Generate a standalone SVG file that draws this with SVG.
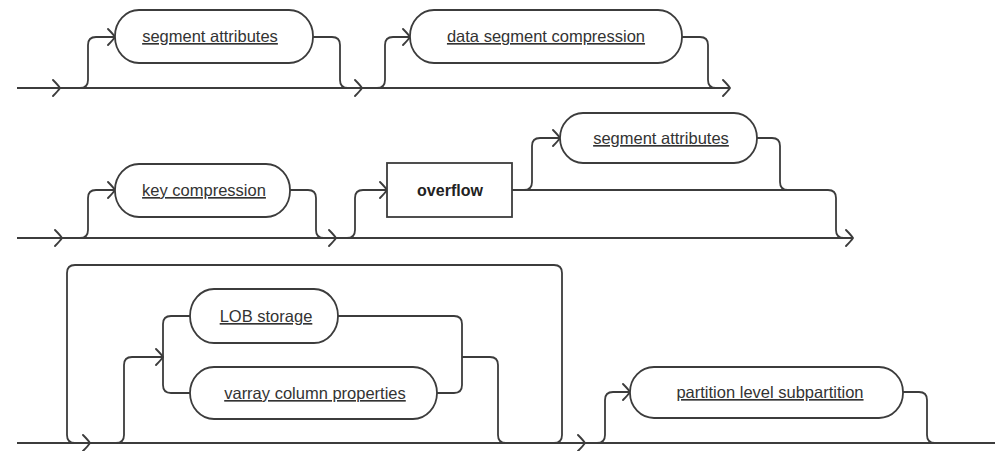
<svg xmlns="http://www.w3.org/2000/svg" width="995" height="451" viewBox="0 0 995 451">
  <style>
    .line { fill: none; stroke: #3c3c3c; stroke-width: 1.8; }
    .node { fill: #fff; stroke: #3c3c3c; stroke-width: 1.8; }
    .lbl { font-family: "Liberation Sans", Arial, sans-serif; font-size: 16.5px; fill: #333; text-anchor: middle; text-decoration: underline; }
    .kw { font-family: "Liberation Sans", Arial, sans-serif; font-size: 16px; font-weight: bold; fill: #222; text-anchor: middle; }
    .chev { fill: none; stroke: #3c3c3c; stroke-width: 1.9; stroke-linecap: round; stroke-linejoin: round; }
  </style>
  <defs>
    <!-- open chevron arrowhead, tip at origin pointing right -->
    <path id="arr" class="chev" d="M -7 -8 Q -2 -3 0 0 Q -2 3 -7 8"/>
  </defs>
  <rect width="995" height="451" fill="#fff"/>

  <g id="connectors">
    <!-- row 1 -->
    <path class="line" d="M17,88 H730"/>
    <path class="line" d="M80,88 Q88,88 88,80 V45 Q88,37 96,37 H115"/>
    <path class="line" d="M313,37 H332 Q340,37 340,45 V80 Q340,88 348,88"/>
    <path class="line" d="M377,88 Q385,88 385,80 V45 Q385,37 393,37 H410"/>
    <path class="line" d="M682,37 H700 Q708,37 708,45 V80 Q708,88 716,88"/>
    <use href="#arr" x="60" y="88"/>
    <use href="#arr" x="115" y="37"/>
    <use href="#arr" x="362" y="88"/>
    <use href="#arr" x="410" y="37"/>
    <use href="#arr" x="730" y="88"/>

    <!-- row 2 -->
    <path class="line" d="M17,238 H853"/>
    <path class="line" d="M80,238 Q88,238 88,230 V198 Q88,190 96,190 H115"/>
    <path class="line" d="M290,190 H308 Q316,190 316,198 V230 Q316,238 324,238"/>
    <path class="line" d="M347,238 Q355,238 355,230 V198 Q355,190 363,190 H387"/>
    <path class="line" d="M512,190 H828 Q836,190 836,198 V230 Q836,238 844,238"/>
    <path class="line" d="M524,190 Q532,190 532,182 V146 Q532,138 540,138 H560"/>
    <path class="line" d="M757,138 H772 Q780,138 780,146 V182 Q780,190 788,190"/>
    <use href="#arr" x="62" y="238"/>
    <use href="#arr" x="115" y="190"/>
    <use href="#arr" x="336" y="238"/>
    <use href="#arr" x="387" y="190"/>
    <use href="#arr" x="560" y="138"/>
    <use href="#arr" x="853" y="238"/>

    <!-- row 3 -->
    <path class="line" d="M17,443 H995"/>
    <path class="line" d="M554,443 Q562,443 562,435 V273 Q562,265 554,265 H75 Q67,265 67,273 V435 Q67,443 75,443"/>
    <path class="line" d="M116,443 Q124,443 124,435 V365 Q124,357 132,357 H163"/>
    <path class="line" d="M190,316 H171 Q163,316 163,324 V385 Q163,393 171,393 H190"/>
    <path class="line" d="M338,316 H454 Q462,316 462,324 V385 Q462,393 454,393 H437"/>
    <path class="line" d="M462,357 H490 Q498,357 498,365 V435 Q498,443 506,443"/>
    <path class="line" d="M597,443 Q605,443 605,435 V400 Q605,392 613,392 H630"/>
    <path class="line" d="M903,392 H919 Q927,392 927,400 V435 Q927,443 935,443"/>
    <use href="#arr" x="90" y="443"/>
    <use href="#arr" x="163" y="357"/>
    <use href="#arr" x="585" y="443"/>
    <use href="#arr" x="630" y="392"/>
  </g>

  <g id="n-segment-attributes-1">
    <rect class="node" x="115" y="10" width="198" height="53" rx="24" ry="26"/>
    <text class="lbl" x="210" y="42">segment attributes</text>
  </g>
  <g id="n-data-segment-compression">
    <rect class="node" x="410" y="10" width="272" height="53" rx="24" ry="26"/>
    <text class="lbl" x="546" y="42">data segment compression</text>
  </g>
  <g id="n-key-compression">
    <rect class="node" x="115" y="164" width="175" height="53" rx="24" ry="26"/>
    <text class="lbl" x="204" y="196">key compression</text>
  </g>
  <g id="n-overflow">
    <rect class="node" x="387" y="163" width="125" height="54"/>
    <text class="kw" x="450" y="196">overflow</text>
  </g>
  <g id="n-segment-attributes-2">
    <rect class="node" x="560" y="113" width="197" height="50" rx="23" ry="25"/>
    <text class="lbl" x="661" y="144">segment attributes</text>
  </g>
  <g id="n-lob-storage">
    <rect class="node" x="190" y="289" width="148" height="54" rx="24" ry="27"/>
    <text class="lbl" x="266" y="322">LOB storage</text>
  </g>
  <g id="n-varray-column-properties">
    <rect class="node" x="190" y="367" width="247" height="52" rx="24" ry="26"/>
    <text class="lbl" x="315" y="399">varray column properties</text>
  </g>
  <g id="n-partition-level-subpartition">
    <rect class="node" x="630" y="367" width="273" height="51" rx="24" ry="25"/>
    <text class="lbl" x="770" y="398">partition level subpartition</text>
  </g>
</svg>
